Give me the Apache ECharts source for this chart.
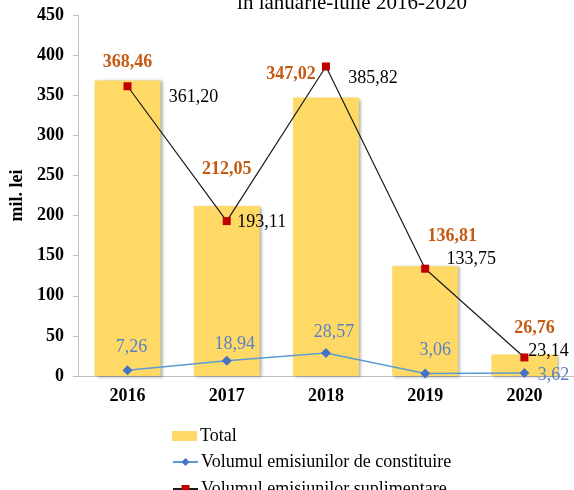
<!DOCTYPE html>
<html>
<head>
<meta charset="utf-8">
<script src="https://cdn.jsdelivr.net/npm/echarts@6/dist/echarts.min.js"></script>
<style>
  html, body { margin: 0; padding: 0; background: #fff; }
  #chart { width: 574px; height: 490px; }
</style>
</head>
<body>
<div id="chart"></div>
<script>
const years = ['2016', '2017', '2018', '2019', '2020'];
const total = [368.46, 212.05, 347.02, 136.81, 26.76];
const constituire = [7.26, 18.94, 28.57, 3.06, 3.62];
const suplimentare = [361.20, 193.11, 385.82, 133.75, 23.14];
const yTicks = [0, 50, 100, 150, 200, 250, 300, 350, 400, 450];

// label nudges, picked by eye
const totalOffsets = [[0, -4], [0, -23], [-35, -9], [27, -16], [10, -12]];
const suplOffsets = [[66, 11], [35, 1], [47, 12], [46, -9], [24, -6]];
const constOffsets = [[4, -23], [8, -17], [8, -21], [10, -23], [29, 2]];

const serif = 'Liberation Serif';
const fmt = v => v.toFixed(2).replace('.', ',');

const legendText = { fontFamily: serif, fontSize: 18, color: '#000', padding: [0, 0, 0, -2] };
const legendBase = { orient: 'vertical', left: 172, padding: 0, itemWidth: 25, itemHeight: 10, textStyle: legendText };

const chart = echarts.init(document.getElementById('chart'));

chart.setOption({
  animation: false,
  textStyle: { fontFamily: serif },
  title: {
    text: 'în ianuarie-iulie 2016-2020',
    left: 347,
    top: -12,
    textAlign: 'center',
    textStyle: { fontFamily: serif, fontSize: 21, fontWeight: 'normal', color: '#000' }
  },
  grid: { left: 77, right: -3, top: 15, bottom: 114 },
  // one legend per row so the list can run off the bottom edge like the original
  legend: [
    Object.assign({}, legendBase, { top: 427, data: [{ name: 'Total', icon: 'rect' }] }),
    Object.assign({}, legendBase, { top: 453, data: ['Volumul emisiunilor de constituire'] }),
    Object.assign({}, legendBase, { top: 480, data: ['Volumul emisiunilor suplimentare'] })
  ],
  xAxis: {
    type: 'category',
    data: years,
    axisLine: { lineStyle: { color: '#BFBFBF' } },
    axisTick: { show: false },
    axisLabel: { fontFamily: serif, fontSize: 18, fontWeight: 'bold', color: '#000', margin: 11 }
  },
  yAxis: {
    type: 'value',
    min: yTicks[0],
    max: yTicks[yTicks.length - 1],
    interval: 50,
    name: 'mil. lei',
    nameLocation: 'middle',
    nameGap: 48,
    nameTextStyle: { fontFamily: serif, fontSize: 18, fontWeight: 'bold', color: '#000' },
    axisLine: { show: true, lineStyle: { color: '#BFBFBF' } },
    axisTick: { show: true, length: 5, lineStyle: { color: '#BFBFBF' } },
    splitLine: { show: false },
    axisLabel: { fontFamily: serif, fontSize: 18, fontWeight: 'bold', color: '#000', margin: 14 }
  },
  series: [
    {
      name: 'Total',
      type: 'bar',
      barWidth: 66,
      itemStyle: {
        color: '#FFD966',
        shadowColor: 'rgba(0,0,0,0.35)',
        shadowBlur: 3,
        shadowOffsetX: 2,
        shadowOffsetY: 1
      },
      data: total.map((v, i) => ({
        value: v,
        label: {
          show: true,
          position: 'top',
          distance: 5,
          offset: totalOffsets[i],
          formatter: fmt(v),
          fontFamily: serif,
          fontSize: 18,
          fontWeight: 'bold',
          color: '#C55A11'
        }
      }))
    },
    {
      name: 'Volumul emisiunilor de constituire',
      type: 'line',
      symbol: 'diamond',
      symbolSize: 10,
      lineStyle: { color: '#5B9BD5', width: 1.5 },
      itemStyle: { color: '#4472C4' },
      z: 3,
      data: constituire.map((v, i) => ({
        value: v,
        label: {
          show: true,
          position: 'inside',
          offset: constOffsets[i],
          formatter: fmt(v),
          fontFamily: serif,
          fontSize: 18,
          color: '#5B80C8'
        }
      }))
    },
    {
      name: 'Volumul emisiunilor suplimentare',
      type: 'line',
      symbol: 'rect',
      symbolSize: 8,
      lineStyle: { color: '#1a1a1a', width: 1.2 },
      itemStyle: { color: '#C00000' },
      z: 3,
      data: suplimentare.map((v, i) => ({
        value: v,
        label: {
          show: true,
          position: 'inside',
          offset: suplOffsets[i],
          formatter: fmt(v),
          fontFamily: serif,
          fontSize: 18,
          color: '#000'
        }
      }))
    }
  ]
});
</script>
</body>
</html>
